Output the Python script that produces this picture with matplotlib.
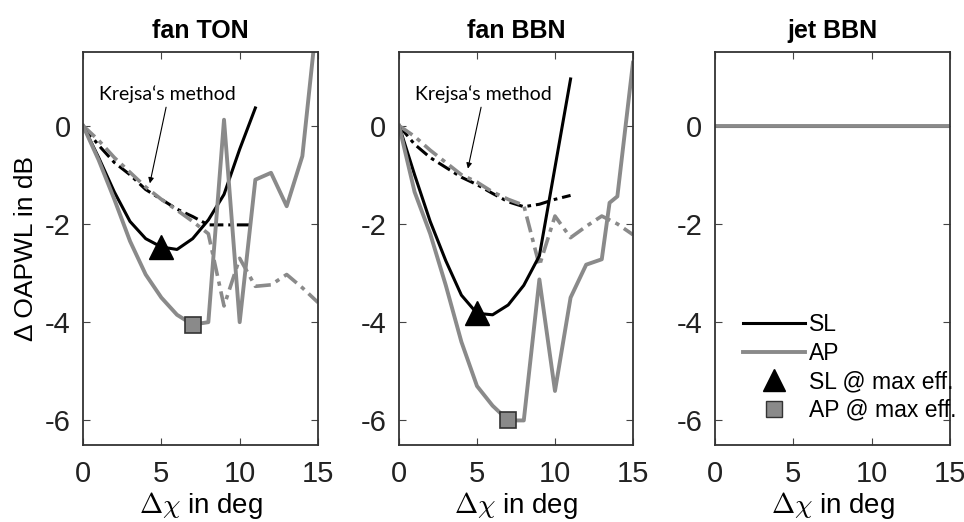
import matplotlib.pyplot as plt
from matplotlib.lines import Line2D
import matplotlib

matplotlib.rcParams['font.family'] = 'Liberation Sans'
matplotlib.rcParams['mathtext.fontset'] = 'cm'
matplotlib.rcParams['axes.unicode_minus'] = False
plt.rcParams['xtick.top'] = True
plt.rcParams['ytick.right'] = True

# ---- data ----
x_sl = [0, 1, 2, 3, 4, 5, 6, 7, 8, 9, 10, 11]
x_ap = [0, 1, 2, 3, 4, 5, 6, 7, 8, 9, 10, 11, 12, 13, 14, 15]

# fan TON
ton_sl = [0, -0.65, -1.35, -1.95, -2.3, -2.47, -2.52, -2.3, -1.92, -1.4, -0.48, 0.36]
ton_ap = [0, -0.7, -1.5, -2.35, -3.03, -3.5, -3.85, -4.05, -4.0, 0.12, -4.0, -1.1,
          -0.96, -1.64, -0.62, 2.4]
ton_sl_krejsa = [0, -0.4, -0.75, -1.0, -1.3, -1.5, -1.7, -1.85, -2.02, -2.02, -2.02, -2.02]
ton_ap_krejsa = [0, -0.3, -0.65, -0.95, -1.25, -1.5, -1.72, -1.95, -2.2, -3.67, -2.7,
                 -3.27, -3.24, -3.03, -3.3, -3.6]
ton_sl_max = (5, -2.47)
ton_ap_max = (7, -4.05)

# fan BBN
bbn_sl = [0, -1.0, -1.95, -2.75, -3.45, -3.82, -3.85, -3.65, -3.25, -2.65, -0.85, 0.95]
x_ap_bbn = [0, 1, 2, 3, 4, 5, 6, 7, 8, 9, 10, 11, 12, 13, 13.5, 14, 15]
bbn_ap = [0, -1.35, -2.2, -3.25, -4.4, -5.3, -5.7, -6.0, -6.0, -3.13, -5.4, -3.5,
          -2.83, -2.72, -1.57, -1.44, 1.28]
bbn_sl_krejsa = [0, -0.38, -0.65, -0.85, -1.05, -1.2, -1.38, -1.55, -1.65, -1.6, -1.5, -1.42]
bbn_ap_krejsa = [0, -0.22, -0.5, -0.75, -1.0, -1.15, -1.35, -1.5, -1.62, -2.85, -1.84,
                 -2.28, -2.05, -1.84, -2.0, -2.22]
bbn_sl_max = (5, -3.82)
bbn_ap_max = (7, -6.0)

# jet BBN
x_jet = [0, 15]
jet_sl = [0, 0]
jet_ap = [0, 0]

titles = ['fan TON', 'fan BBN', 'jet BBN']

BLACK = '#000000'
GRAY = '#8a8a8a'
DASHDOT = (0, (4.5, 1.6, 1.2, 1.6))


def style_axes(ax, title):
    ax.set_xlim(0, 15)
    ax.set_ylim(-6.5, 1.5)
    ax.set_xticks([0, 5, 10, 15])
    ax.set_yticks([-6, -4, -2, 0])
    ax.tick_params(which='both', direction='in', labelsize=21, length=5,
                   color='#444444', labelcolor='#222222', pad=9)
    ax.tick_params(axis='x', pad=11)
    for s in ax.spines.values():
        s.set_color('#333333')
        s.set_linewidth(1.3)
    ax.set_title(title, fontsize=18, fontweight='bold', pad=10)
    ax.set_xlabel(r'$\Delta\chi$ in deg', fontsize=20, labelpad=1)


def draw_fan(ax, sl, xap, ap, slk, apk, slmax, apmax, tx, ax_from, ax_to):
    ax.plot(x_sl, slk, color=BLACK, lw=2.2, ls=DASHDOT)
    ax.plot(x_ap, apk, color=GRAY, lw=2.6, ls=DASHDOT)
    ax.plot(x_sl, sl, color=BLACK, lw=2.2)
    ax.plot(xap, ap, color=GRAY, lw=2.8)
    ax.plot(*slmax, marker='^', ms=17, color=BLACK, ls='none')
    ax.plot(*apmax, marker='s', ms=12, mfc=GRAY, mec='#333333', mew=1.2, ls='none')
    ax.text(tx, 0.65, 'Krejsa\u2018s method', family='Lato', fontsize=14,
            ha='center', va='center')
    ax.annotate('', xy=ax_to, xytext=ax_from,
                arrowprops=dict(arrowstyle='-|>', color='black', lw=0.8,
                                mutation_scale=8))


fig = plt.figure(figsize=(9.64, 5.22), dpi=100)
ax1 = fig.add_axes([0.0861, 0.1475, 0.2438, 0.753])
ax2 = fig.add_axes([0.4139, 0.1475, 0.2427, 0.753])
ax3 = fig.add_axes([0.7417, 0.1475, 0.2438, 0.753])

draw_fan(ax1, ton_sl, x_ap, ton_ap, ton_sl_krejsa, ton_ap_krejsa,
         ton_sl_max, ton_ap_max, 5.4, (5.34, 0.43), (4.23, -1.23))
draw_fan(ax2, bbn_sl, x_ap_bbn, bbn_ap, bbn_sl_krejsa, bbn_ap_krejsa,
         bbn_sl_max, bbn_ap_max, 5.4, (5.3, 0.43), (4.38, -0.93))

ax3.plot(x_jet, jet_sl, color=BLACK, lw=2.2)
ax3.plot(x_jet, jet_ap, color=GRAY, lw=2.8)

for ax, t in zip([ax1, ax2, ax3], titles):
    style_axes(ax, t)
ax1.set_ylabel('\u0394 OAPWL in dB', fontsize=19, labelpad=5)

handles = [
    Line2D([], [], color=BLACK, lw=2.2),
    Line2D([], [], color=GRAY, lw=2.8),
    Line2D([], [], color=BLACK, marker='^', ms=16, ls='none'),
    Line2D([], [], mfc=GRAY, mec='#333333', marker='s', ms=11, mew=1.0, ls='none'),
]
labels = ['SL', 'AP', 'SL @ max eff.', 'AP @ max eff.']
ax3.legend(handles, labels, loc='upper left', bbox_to_anchor=(0.12, 0.335),
           frameon=False, fontsize=16.5, handlelength=2.7, handletextpad=0.15,
           labelspacing=0.24, borderpad=0, borderaxespad=0)

fig.savefig('out.png', dpi=100)
